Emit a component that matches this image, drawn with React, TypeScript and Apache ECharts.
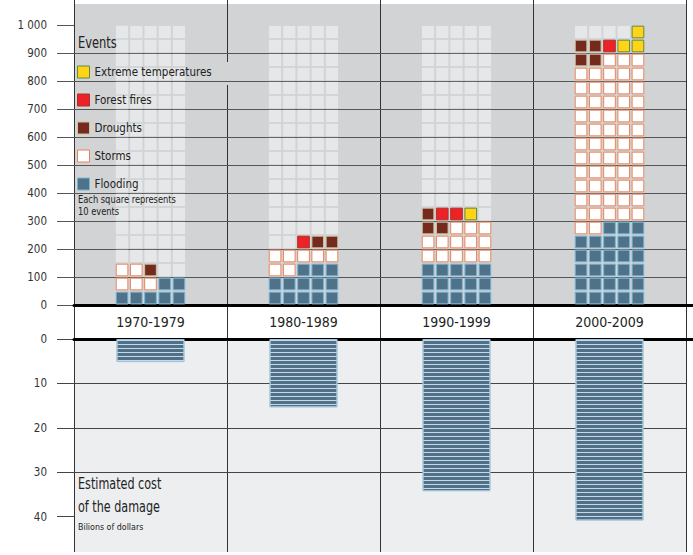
import React, { useEffect, useRef } from 'react';
import * as echarts from 'echarts';

// ---------- data ----------
const decades = ['1970-1979', '1980-1989', '1990-1999', '2000-2009'];
const eventTicks = [0, 100, 200, 300, 400, 500, 600, 700, 800, 900, 1000];
const costTicks = [0, 10, 20, 30, 40];
// estimated cost of the damage, billions of dollars
const costs = [5.2, 15.4, 34.3, 40.9];

// Waffle cells, rows listed bottom-up, 5 squares per row, 1 square = 10 events
// F flooding, S storms, D droughts, R forest fires, T extreme temperatures, . empty
const cells1970s = ['FFFFF', 'SSSFF', 'SSD..'];
const cells1980s = ['FFFFF', 'FFFFF', 'SSFFF', 'SSSSS', '..RDD'];
const cells1990s = ['FFFFF', 'FFFFF', 'FFFFF', 'SSSSS', 'SSSSS', 'DDSSS', 'DRRT.'];
const cells2000s = [
  'FFFFF', 'FFFFF', 'FFFFF', 'FFFFF', 'FFFFF', 'SSFFF',
  'SSSSS', 'SSSSS', 'SSSSS', 'SSSSS', 'SSSSS', 'SSSSS', 'SSSSS', 'SSSSS', 'SSSSS', 'SSSSS', 'SSSSS',
  'DDSSS', 'DDRTT', '....T',
];
const decadeCells = [cells1970s, cells1980s, cells1990s, cells2000s];

const eventNames = ['Extreme temperatures', 'Forest fires', 'Droughts', 'Storms', 'Flooding'];
const eventCodes = ['T', 'R', 'D', 'S', 'F'];

const EVENTS_PER_SQUARE = 10;
const SQUARES_PER_ROW = 5;
const EVENTS_PER_ROW = EVENTS_PER_SQUARE * SQUARES_PER_ROW;

// ---------- styles ----------
const eventStyles: Record<string, { fill: string; stroke: string }> = {
  T: { fill: '#ffd316', stroke: '#5f8a3a' },
  R: { fill: '#ec2227', stroke: '#a8332c' },
  D: { fill: '#742a1d', stroke: '#cfc2a6' },
  S: { fill: '#ffffff', stroke: '#e9825a' },
  F: { fill: '#4f7289', stroke: '#78b4d6' },
};
const NARROW = "'Liberation Sans Narrow', 'Arial Narrow', 'DejaVu Sans Condensed', sans-serif";
const TOP_BG = '#d1d3d4';
const CELL_BG = '#e6e7e8';
const BOTTOM_BG = '#eceef0';

function cellRender(fill: string, stroke: string | null, grow: number) {
  return (params: any, api: any) => {
    const d = api.value(0);
    const col = api.value(1);
    const row = api.value(2);
    const center = api.coord([d, (row + 0.5) * EVENTS_PER_ROW]);
    const band = api.size([1, 0])[0];
    const pitch = band * 0.093;
    const size = pitch * 0.82 + grow;
    const x = center[0] + (col - (SQUARES_PER_ROW - 1) / 2) * pitch - size / 2;
    const y = center[1] - size / 2;
    return {
      type: 'rect',
      shape: { x, y, width: size, height: size },
      style: stroke ? { fill, stroke, lineWidth: 1 } : { fill },
    };
  };
}

export default function App() {
  const ref = useRef<HTMLDivElement>(null);

  useEffect(() => {
    if (!ref.current) return;
    const chart = echarts.init(ref.current, undefined, { renderer: 'svg' });

    const topMax = 1075;
    const capacityRows = eventTicks[eventTicks.length - 1] / EVENTS_PER_ROW;

    const bgCells: number[][] = [];
    decades.forEach((_, d) => {
      for (let r = 0; r < capacityRows; r++) {
        for (let c = 0; c < SQUARES_PER_ROW; c++) bgCells.push([d, c, r]);
      }
    });

    const eventSeries = eventCodes.map((code, i) => {
      const data: number[][] = [];
      decadeCells.forEach((rows, d) => {
        rows.forEach((rowStr, r) => {
          for (let c = 0; c < rowStr.length; c++) {
            if (rowStr[c] === code) data.push([d, c, r]);
          }
        });
      });
      const st = eventStyles[code];
      return {
        name: eventNames[i],
        type: 'custom',
        xAxisIndex: 0,
        yAxisIndex: 0,
        z: 6,
        silent: true,
        renderItem: cellRender(st.fill, st.stroke, 0),
        data,
      };
    });

    const axisFont = { fontFamily: NARROW, color: '#333' };

    const option: any = {
      animation: false,
      grid: [
        { left: 74, right: 7, top: 4, bottom: 250, show: true, backgroundColor: TOP_BG, borderWidth: 0 },
        { left: 74, right: 7, top: 339, bottom: 3, show: true, backgroundColor: BOTTOM_BG, borderWidth: 0 },
        { left: 74, right: 7, top: 0, bottom: 3 },
      ],
      xAxis: [
        {
          gridIndex: 0, type: 'category', data: decades, z: 4,
          axisLine: { show: true, lineStyle: { color: '#000', width: 3 } },
          axisTick: { show: false },
          axisLabel: { margin: 10, fontSize: 14, ...axisFont, color: '#222' },
          splitLine: { show: false },
        },
        {
          gridIndex: 1, type: 'category', data: decades, position: 'top', z: 4,
          axisLine: { show: true, onZero: false, lineStyle: { color: '#000', width: 3 } },
          axisTick: { show: false },
          axisLabel: { show: false },
          splitLine: { show: false },
        },
        {
          gridIndex: 2, type: 'category', data: decades, z: 1,
          axisLine: { show: false }, axisTick: { show: false }, axisLabel: { show: false },
          splitLine: { show: true, lineStyle: { color: '#333', width: 1 } },
        },
      ],
      yAxis: [
        {
          gridIndex: 0, type: 'value', min: 0, max: topMax, interval: 100, z: 3,
          axisLine: { show: false },
          axisTick: { show: true, length: 17, customValues: eventTicks, lineStyle: { color: '#555', width: 1 } },
          axisLabel: {
            customValues: eventTicks, margin: 27, fontSize: 11.5, ...axisFont,
            formatter: (v: number) => (v >= 1000 ? v.toLocaleString('en-US').replace(',', ' ') : String(v)),
          },
          splitLine: { show: true, showMaxLine: false, lineStyle: { color: '#555', width: 1 } },
        },
        {
          gridIndex: 0, type: 'value', min: 0, max: topMax, z: 4,
          axisLine: { show: false },
          axisTick: { show: true, length: 17, customValues: [0], lineStyle: { color: '#000', width: 3 } },
          axisLabel: { show: false },
          splitLine: { show: false },
        },
        {
          gridIndex: 1, type: 'value', min: 0, max: 48, interval: 10, inverse: true, z: 3,
          axisLine: { show: false },
          axisTick: { show: true, length: 17, customValues: costTicks, lineStyle: { color: '#444', width: 1 } },
          axisLabel: { customValues: costTicks, margin: 27, fontSize: 11.5, ...axisFont },
          splitLine: { show: true, showMaxLine: false, lineStyle: { color: '#444', width: 1 } },
        },
        {
          gridIndex: 1, type: 'value', min: 0, max: 48, inverse: true, z: 4,
          axisLine: { show: false },
          axisTick: { show: true, length: 17, customValues: [0], lineStyle: { color: '#000', width: 3 } },
          axisLabel: { show: false },
          splitLine: { show: false },
        },
        { gridIndex: 2, type: 'value', show: false },
      ],
      legend: {
        orient: 'vertical', left: 77, top: 65, padding: 0, itemWidth: 12, itemHeight: 12, itemGap: 14,
        selectedMode: false, z: 10,
        data: eventNames.map((name, i) => {
          const st = eventStyles[eventCodes[i]];
          return { name, icon: 'rect', itemStyle: { color: st.fill, borderColor: st.stroke, borderWidth: 1 } };
        }),
        textStyle: { fontSize: 11.5, fontFamily: NARROW, color: '#222', lineHeight: 14 },
      },
      graphic: [
        { type: 'rect', z: 2, silent: true, shape: { x: 222, y: 62, width: 10, height: 23 }, style: { fill: TOP_BG } },
        { type: 'text', z: 10, x: 78, y: 43, scaleX: 0.85, style: { text: 'Events', fontSize: 15, fontFamily: NARROW, fill: '#222', verticalAlign: 'middle' } },
        { type: 'text', z: 10, x: 78, y: 194, scaleX: 0.88, style: { text: 'Each square represents\n10 events', fontSize: 10.5, lineHeight: 11.5, fontFamily: NARROW, fill: '#222' } },
        { type: 'text', z: 10, x: 78, y: 472, scaleX: 0.83, style: { text: 'Estimated cost\nof the damage', fontSize: 15, lineHeight: 23, fontFamily: NARROW, fill: '#222' } },
        { type: 'text', z: 10, x: 78, y: 526, scaleX: 0.93, style: { text: 'Bilions of dollars', fontSize: 9.5, fontFamily: NARROW, fill: '#222', verticalAlign: 'middle' } },
      ],
      series: [
        {
          name: 'capacity',
          type: 'custom', xAxisIndex: 0, yAxisIndex: 0, z: 5, silent: true,
          renderItem: cellRender(CELL_BG, null, 0.6),
          data: bgCells,
        },
        ...eventSeries,
        {
          name: 'Estimated cost of the damage',
          type: 'bar', xAxisIndex: 1, yAxisIndex: 2, z: 5, silent: true,
          barWidth: '44.4%',
          data: costs,
          itemStyle: {
            color: '#4e7189',
            borderColor: '#a2c3d8',
            borderWidth: 1,
            decal: {
              symbol: 'rect', symbolSize: 1, color: 'rgba(214,228,238,0.9)',
              dashArrayX: [1, 0], dashArrayY: [1, 3], rotation: 0,
            },
          },
        },
      ],
    };

    chart.setOption(option);
    return () => chart.dispose();
  }, []);

  return (
    <div
      ref={ref}
      style={{ position: 'fixed', left: 0, top: 0, width: 693, height: 555, background: '#fff' }}
    />
  );
}
